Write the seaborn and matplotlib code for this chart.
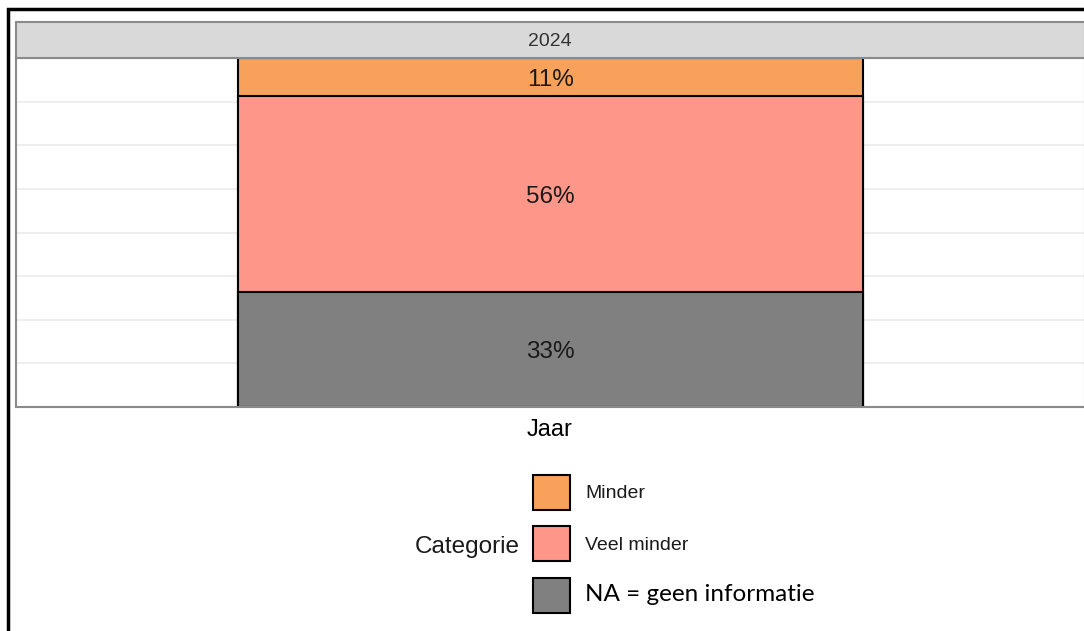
import matplotlib
matplotlib.use("Agg")
import matplotlib.pyplot as plt
import seaborn as sns
import pandas as pd
from matplotlib.patches import Patch, Rectangle

# data
jaar = ["2024"]
categorien = ["Minder", "Veel minder", "NA = geen informatie"]
aandeel = [0.11, 0.56, 0.33]   # top -> bottom of the stack
kleuren = ["#F8A15A", "#FF968A", "#808080"]

sns.set_theme(style="white")
plt.rcParams["font.family"] = ["Liberation Sans", "DejaVu Sans"]

fig = plt.figure(figsize=(10.84, 6.31), dpi=100)
ax = fig.add_axes([16 / 1084, 1 - 407 / 631, 1069 / 1084, 349 / 631])

# stacked bar: draw cumulative totals from the top layer down
df = pd.DataFrame({"Jaar": jaar * 3, "Categorie": categorien, "aandeel": aandeel})
cum = df["aandeel"][::-1].cumsum()[::-1].tolist()   # 1.00, 0.89, 0.33
for i, cat in enumerate(categorien):
    sns.barplot(x=[jaar[0]], y=[cum[i]], color=kleuren[i], width=0.585,
                edgecolor="black", linewidth=1.5, saturation=1, ax=ax)

# percentage labels in the middle of each segment
for i, cat in enumerate(categorien):
    lower = cum[i] - aandeel[i]
    ax.text(0, lower + aandeel[i] / 2, f"{round(aandeel[i] * 100)}%",
            ha="center", va="center_baseline", fontsize=17.5, color="#1a1a1a")

ax.set_xlim(-0.5, 0.5)
ax.set_ylim(0, 1)
ax.set_yticks([i / 8 for i in range(1, 8)])
ax.yaxis.grid(True, color="#ebebeb", linewidth=1.2)
ax.set_axisbelow(True)
ax.tick_params(left=False, bottom=False, labelleft=False, labelbottom=False)
ax.set_xlabel("")
ax.set_ylabel("")
for s in ax.spines.values():
    s.set_color("#8a8a8a")
    s.set_linewidth(1.5)

# facet strip
strip = Rectangle((16 / 1084, 1 - 58 / 631), 1069 / 1084, 36 / 631,
                  transform=fig.transFigure, facecolor="#d9d9d9",
                  edgecolor="#8a8a8a", linewidth=1.5, zorder=0)
fig.patches.append(strip)
fig.text(550 / 1084, 1 - 41 / 631, jaar[0], ha="center", va="center",
         fontsize=14, color="#333333")

fig.text(550 / 1084, 1 - 430 / 631, "Jaar", ha="center", va="center",
         fontsize=17, color="black")

# legend
handles = [Patch(facecolor=c, edgecolor="black", linewidth=1.5) for c in kleuren]
leg = fig.legend(handles, categorien, loc="upper left",
                 bbox_to_anchor=(533 / 1084, 1 - 475 / 631), frameon=False,
                 fontsize=14, handlelength=1.9, handleheight=2.39,
                 labelspacing=0.85, handletextpad=0.78, borderpad=0,
                 borderaxespad=0)
for t in leg.get_texts()[:2]:
    t.set_color("#1a1a1a")
na = leg.get_texts()[2]
na.set_fontfamily("Lato")
na.set_fontsize(17.5)
na.set_color("black")
fig.text(520 / 1084, 1 - 547 / 631, "Categorie", ha="right", va="center",
         fontsize=17.5, color="#1a1a1a")

# outer frame of the picture
fig.patches.append(Rectangle((8 / 1084, -0.05), 1.2, 1 - 9 / 631 + 0.05,
                             transform=fig.transFigure, fill=False,
                             edgecolor="black", linewidth=2.5))

fig.savefig("out.png", dpi=100)
